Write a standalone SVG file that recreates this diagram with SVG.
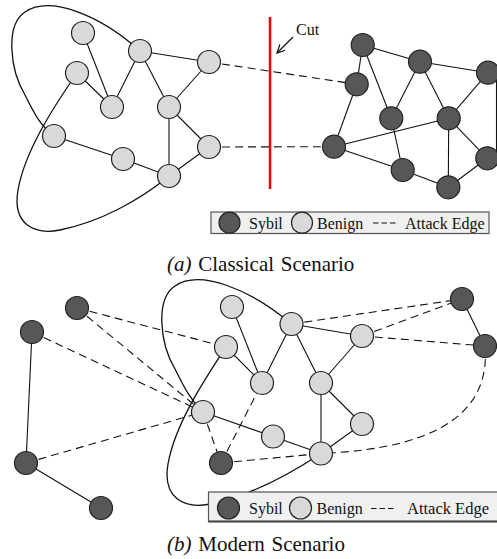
<svg xmlns="http://www.w3.org/2000/svg" width="497" height="559" viewBox="0 0 497 559">
<style>
.nb{fill:#d9d9d9;stroke:#222;stroke-width:1.2}
.ns{fill:#575757;stroke:#222;stroke-width:1.2}
.e{stroke:#111;stroke-width:1.1;fill:none}
.d{stroke:#111;stroke-width:1.1;stroke-dasharray:8 5;fill:none}
.loop{stroke:#111;stroke-width:1.3;fill:none}
.t{font-family:"Liberation Serif","Times New Roman",serif;fill:#111}
.lg{fill:#f0f0f0;stroke:#555;stroke-width:1.2}
</style>
<defs>
<marker id="arr" markerWidth="10" markerHeight="10" refX="8" refY="4" orient="auto" markerUnits="userSpaceOnUse">
<path d="M0,0 L8,4 L0,8" fill="none" stroke="#111" stroke-width="1.2"/>
</marker>
</defs>
<rect width="497" height="559" fill="#fff"/>

<g id="connectors">
<!-- (a) loop -->
<path class="loop" d="M140,51 C100,15 50,-5 25,12 C5,25 10,70 25,95 C35,115 40,125 54,136"/>
<path class="loop" d="M77,73 C55,105 25,150 18,190 C12,225 35,235 60,230 C100,222 140,200 169,176"/>
<!-- (a) benign edges -->
<line class="e" x1="83" y1="33" x2="112" y2="107"/>
<line class="e" x1="77" y1="73" x2="112" y2="107"/>
<line class="e" x1="140" y1="51" x2="112" y2="107"/>
<line class="e" x1="140" y1="51" x2="209" y2="62"/>
<line class="e" x1="140" y1="51" x2="169" y2="107"/>
<line class="e" x1="209" y1="62" x2="169" y2="107"/>
<line class="e" x1="169" y1="107" x2="169" y2="176"/>
<line class="e" x1="169" y1="107" x2="209" y2="147"/>
<line class="e" x1="209" y1="147" x2="169" y2="176"/>
<line class="e" x1="54" y1="136" x2="123" y2="159"/>
<line class="e" x1="123" y1="159" x2="169" y2="176"/>
<!-- (a) sybil edges -->
<line class="e" x1="362.7" y1="45" x2="420" y2="61.7"/>
<line class="e" x1="362.7" y1="45" x2="356.7" y2="84.3"/>
<line class="e" x1="362.7" y1="45" x2="391.3" y2="118.3"/>
<line class="e" x1="420" y1="61.7" x2="488" y2="72.7"/>
<line class="e" x1="420" y1="61.7" x2="391.3" y2="118.3"/>
<line class="e" x1="420" y1="61.7" x2="448.7" y2="118.3"/>
<line class="e" x1="488" y1="72.7" x2="448.7" y2="118.3"/>
<line class="e" x1="356.7" y1="84.3" x2="334" y2="146.7"/>
<line class="e" x1="334" y1="146.7" x2="448.7" y2="118.3"/>
<line class="e" x1="391.3" y1="118.3" x2="402.7" y2="170"/>
<line class="e" x1="334" y1="146.7" x2="402.7" y2="170"/>
<line class="e" x1="402.7" y1="170" x2="448.3" y2="187.3"/>
<line class="e" x1="448.7" y1="118.3" x2="448.3" y2="187.3"/>
<line class="e" x1="448.7" y1="118.3" x2="487.3" y2="158.3"/>
<line class="e" x1="487.3" y1="158.3" x2="448.3" y2="187.3"/>
<line class="e" x1="496.5" y1="78" x2="496.5" y2="152"/>
<!-- (a) attack edges -->
<line class="d" x1="209" y1="62" x2="356.7" y2="84.3"/>
<line class="d" x1="209" y1="147" x2="334" y2="146.7"/>

<!-- (b) loop -->
<path class="loop" transform="translate(150,274)" d="M141.5,50 C100,15 50,-5 25,12 C5,25 10,70 25,95 C35,115 40,125 53,138"/>
<path class="loop" transform="translate(150,274)" d="M76,73 C55,105 25,150 18,190 C12,225 35,235 60,230 C100,222 140,200 171,179.5"/>
<!-- (b) benign edges -->
<line class="e" x1="232" y1="307" x2="262" y2="383"/>
<line class="e" x1="226" y1="347" x2="262" y2="383"/>
<line class="e" x1="291.5" y1="324" x2="262" y2="383"/>
<line class="e" x1="291.5" y1="324" x2="362" y2="336"/>
<line class="e" x1="291.5" y1="324" x2="321" y2="383"/>
<line class="e" x1="362" y1="336" x2="321" y2="383"/>
<line class="e" x1="321" y1="383" x2="321" y2="453.5"/>
<line class="e" x1="321" y1="383" x2="362" y2="424"/>
<line class="e" x1="362" y1="424" x2="321" y2="453.5"/>
<line class="e" x1="203" y1="412" x2="273" y2="436.5"/>
<line class="e" x1="273" y1="436.5" x2="321" y2="453.5"/>
<!-- (b) sybil edges -->
<line class="e" x1="32" y1="332" x2="26" y2="463"/>
<line class="e" x1="26" y1="463" x2="101" y2="508"/>
<line class="e" x1="462" y1="299" x2="485" y2="346"/>
<!-- (b) attack edges -->
<line class="d" x1="77" y1="308" x2="226" y2="347"/>
<line class="d" x1="77" y1="308" x2="203" y2="412"/>
<line class="d" x1="32" y1="332" x2="203" y2="412"/>
<line class="d" x1="26" y1="463" x2="203" y2="412"/>
<line class="d" x1="203" y1="412" x2="221" y2="463"/>
<line class="d" x1="221" y1="463" x2="262" y2="383"/>
<line class="d" x1="221" y1="463" x2="321" y2="453.5"/>
<line class="d" x1="291.5" y1="324" x2="462" y2="299"/>
<line class="d" x1="362" y1="336" x2="462" y2="299"/>
<line class="d" x1="362" y1="336" x2="485" y2="346"/>
<path class="d" d="M485,346 C490,405 450,448 321,453.5"/>
</g>

<!-- cut -->
<g id="cut">
<line x1="270" y1="17" x2="270" y2="189" stroke="#ee0000" stroke-width="2.5"/>
<text class="t" x="296" y="35" font-size="16">Cut</text>
<line x1="293" y1="37" x2="277" y2="53" stroke="#111" stroke-width="1.2" marker-end="url(#arr)"/>
</g>

<!-- (a) benign nodes -->
<g id="a-b1"><circle class="nb" cx="83" cy="33" r="11.5"/></g>
<g id="a-b2"><circle class="nb" cx="77" cy="73" r="11.5"/></g>
<g id="a-b3"><circle class="nb" cx="140" cy="51" r="11.5"/></g>
<g id="a-b4"><circle class="nb" cx="209" cy="62" r="11.5"/></g>
<g id="a-b5"><circle class="nb" cx="112" cy="107" r="11.5"/></g>
<g id="a-b6"><circle class="nb" cx="169" cy="107" r="11.5"/></g>
<g id="a-b7"><circle class="nb" cx="54" cy="136" r="11.5"/></g>
<g id="a-b8"><circle class="nb" cx="209" cy="147" r="11.5"/></g>
<g id="a-b9"><circle class="nb" cx="123" cy="159" r="11.5"/></g>
<g id="a-b10"><circle class="nb" cx="169" cy="176" r="11.5"/></g>
<!-- (a) sybil nodes -->
<g id="a-s1"><circle class="ns" cx="362.7" cy="45" r="11.5"/></g>
<g id="a-s2"><circle class="ns" cx="420" cy="61.7" r="11.5"/></g>
<g id="a-s3"><circle class="ns" cx="488" cy="72.7" r="11.5"/></g>
<g id="a-s4"><circle class="ns" cx="356.7" cy="84.3" r="11.5"/></g>
<g id="a-s5"><circle class="ns" cx="391.3" cy="118.3" r="11.5"/></g>
<g id="a-s6"><circle class="ns" cx="448.7" cy="118.3" r="11.5"/></g>
<g id="a-s7"><circle class="ns" cx="334" cy="146.7" r="11.5"/></g>
<g id="a-s8"><circle class="ns" cx="402.7" cy="170" r="11.5"/></g>
<g id="a-s9"><circle class="ns" cx="487.3" cy="158.3" r="11.5"/></g>
<g id="a-s10"><circle class="ns" cx="448.3" cy="187.3" r="11.5"/></g>

<!-- (a) legend -->
<g id="legend-a">
<rect class="lg" x="211" y="212" width="278" height="21.5"/>
<circle class="ns" cx="229.5" cy="222.7" r="10.5"/>
<text class="t" x="249" y="228.8" font-size="16">Sybil</text>
<circle class="nb" cx="302" cy="222.7" r="10.5"/>
<text class="t" x="317" y="228.8" font-size="16">Benign</text>
<line x1="373" y1="223" x2="397" y2="223" stroke="#111" stroke-width="1.1" stroke-dasharray="5.5 3"/>
<text class="t" x="405" y="228.8" font-size="16">Attack Edge</text>
</g>
<text id="cap-a" class="t" x="167" y="270.5" font-size="21" word-spacing="1.5"><tspan font-style="italic">(a)</tspan> Classical Scenario</text>

<!-- (b) benign nodes -->
<g id="b-b1"><circle class="nb" cx="232" cy="307" r="11.5"/></g>
<g id="b-b2"><circle class="nb" cx="226" cy="347" r="11.5"/></g>
<g id="b-b3"><circle class="nb" cx="262" cy="383" r="11.5"/></g>
<g id="b-b4"><circle class="nb" cx="291.5" cy="324" r="11.5"/></g>
<g id="b-b5"><circle class="nb" cx="362" cy="336" r="11.5"/></g>
<g id="b-b6"><circle class="nb" cx="321" cy="383" r="11.5"/></g>
<g id="b-b7"><circle class="nb" cx="203" cy="412" r="11.5"/></g>
<g id="b-b8"><circle class="nb" cx="273" cy="436.5" r="11.5"/></g>
<g id="b-b9"><circle class="nb" cx="321" cy="453.5" r="11.5"/></g>
<g id="b-b10"><circle class="nb" cx="362" cy="424" r="11.5"/></g>
<!-- (b) sybil nodes -->
<g id="b-s1"><circle class="ns" cx="77" cy="308" r="11.5"/></g>
<g id="b-s2"><circle class="ns" cx="32" cy="332" r="11.5"/></g>
<g id="b-s3"><circle class="ns" cx="26" cy="463" r="11.5"/></g>
<g id="b-s4"><circle class="ns" cx="101" cy="508" r="11.5"/></g>
<g id="b-s5"><circle class="ns" cx="221" cy="463" r="11.5"/></g>
<g id="b-s6"><circle class="ns" cx="462" cy="299" r="11.5"/></g>
<g id="b-s7"><circle class="ns" cx="485" cy="346" r="11.5"/></g>

<!-- (b) legend -->
<g id="legend-b">
<rect class="lg" x="208.5" y="492" width="290" height="29.5"/>
<line x1="208.5" y1="521.5" x2="497" y2="521.5" stroke="#444" stroke-width="2.2"/>
<circle class="ns" cx="228.5" cy="508" r="11"/>
<text class="t" x="249" y="514" font-size="16">Sybil</text>
<circle class="nb" cx="300.5" cy="508" r="11"/>
<text class="t" x="316.5" y="514" font-size="16">Benign</text>
<line x1="371" y1="508.5" x2="395" y2="508.5" stroke="#111" stroke-width="1.1" stroke-dasharray="5.5 3"/>
<text class="t" x="407" y="514" font-size="16.5">Attack Edge</text>
</g>
<text id="cap-b" class="t" x="167" y="551" font-size="21" word-spacing="1.5"><tspan font-style="italic">(b)</tspan> Modern Scenario</text>
</svg>
